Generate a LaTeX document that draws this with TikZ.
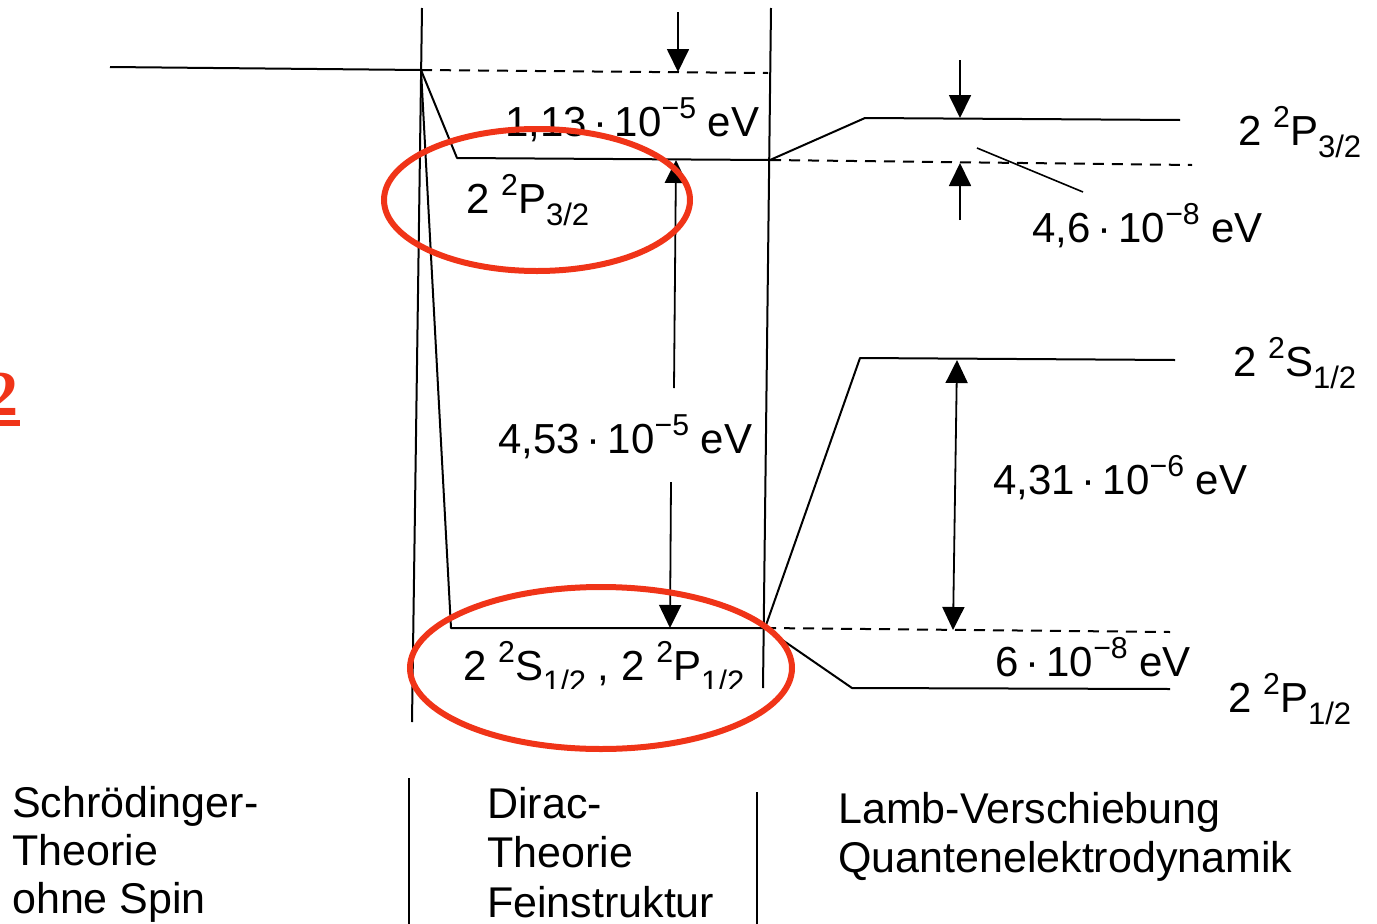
\documentclass[tikz,border=0pt]{standalone}
\usepackage{fontspec}
\setmainfont{Liberation Sans}
\newfontfamily\redserif{Liberation Serif}
\usetikzlibrary{arrows.meta}
\newcommand\upx[1]{\raisebox{0.42em}{\scalebox{0.72}{#1}}}
\newcommand\dnx[1]{\raisebox{-0.30em}{\scalebox{0.74}{#1}}}
\definecolor{redmark}{RGB}{240,52,24}
\begin{document}
\begin{tikzpicture}[x=1pt,y=-1pt,
  lvl/.style={line width=2pt, line join=round},
  leader/.style={line width=1.6pt},
  dsh/.style={line width=2pt, dash pattern=on 11pt off 8pt},
  tip/.tip={Triangle[length=23pt,width=22pt]},
  arr/.style={line width=1.8pt, -tip},
  lab/.style={anchor=base west, inner sep=0pt, font=\fontsize{42}{48}\selectfont},
  captxt/.style={anchor=base west, inner sep=0pt, font=\fontsize{43}{48}\selectfont},
  ring/.style={draw=redmark, line width=6pt},
]
\useasboundingbox (0,0) rectangle (1377,924);

% coordinates
\coordinate (S0) at (110,67);
\coordinate (J) at (421,70);
\coordinate (V1t) at (422,8);
\coordinate (V1b) at (412,722);
\coordinate (P3a) at (457,158);
\coordinate (P3b) at (770,160);
\coordinate (S1a) at (451,628);
\coordinate (S1b) at (765,628);
\coordinate (V2t) at (771,8);
\coordinate (V2b) at (763,688);
\coordinate (D1b) at (768,73);

% Schroedinger and Dirac levels
\draw[lvl] (S0) -- (J);
\draw[lvl] (V1t) -- (V1b);
\draw[lvl] (J) -- (P3a) -- (P3b);
\draw[lvl] (J) -- (S1a) -- (S1b);
\draw[lvl] (V2t) -- (V2b);
\draw[dsh] (J) -- (D1b);

% fine structure arrows
\coordinate (A1t) at (678,12);
\coordinate (A1b) at (678,72);
\draw[arr] (A1t) -- (A1b);
\coordinate (A2s) at (674,388);
\coordinate (A2e) at (676,160);
\draw[arr] (A2s) -- (A2e);
\coordinate (A3s) at (671,482);
\coordinate (A3e) at (670,628);
\draw[arr] (A3s) -- (A3e);

% Lamb shift region
\coordinate (R1a) at (865,118);
\coordinate (R1b) at (1180,120);
\coordinate (D2b) at (1192,165);
\draw[lvl] (P3b) -- (R1a) -- (R1b);
\draw[dsh] (P3b) -- (D2b);
\coordinate (B1t) at (960,60);
\coordinate (B1b) at (960,118);
\draw[arr] (B1t) -- (B1b);
\coordinate (B2b) at (960,220);
\coordinate (B2t) at (960,163);
\draw[arr] (B2b) -- (B2t);
\coordinate (L1a) at (977,148);
\coordinate (L1b) at (1083,192);
\draw[leader] (L1a) -- (L1b);

\coordinate (R2a) at (860,358);
\coordinate (R2b) at (1175,360);
\coordinate (D3b) at (1170,632);
\coordinate (R3a) at (852,688);
\coordinate (R3b) at (1170,689);
\draw[lvl] (S1b) -- (R2a) -- (R2b);
\draw[dsh] (S1b) -- (D3b);
\draw[lvl] (S1b) -- (R3a) -- (R3b);
\coordinate (C1t) at (957,360);
\coordinate (C1b) at (953,630);
\draw[line width=1.8pt, tip-tip] (C1t) -- (C1b);

% labels
\node[lab] (l113) at (505,136) {1,13\,·\,10\upx{−5} eV};
\node[lab] (lP3) at (466,213) {2 \upx{2}P\dnx{3/2}};
\node[lab] (l453) at (498,453) {4,53\,·\,10\upx{−5} eV};
\begin{scope}
  \clip (440,600) rectangle (762,688);
  \node[lab] (lSP) at (463,680) {2 \upx{2}S\dnx{1/2} , 2 \upx{2}P\dnx{1/2}};
\end{scope}
\node[lab] (rP3) at (1238,145) {2 \upx{2}P\dnx{3/2}};
\node[lab] (l46) at (1032,242) {4,6\,·\,10\upx{−8} eV};
\node[lab] (rS) at (1233,376) {2 \upx{2}S\dnx{1/2}};
\node[lab] (l431) at (993,494) {4,31\,·\,10\upx{−6} eV};
\node[lab] (l6) at (995,676) {6\,·\,10\upx{−8} eV};
\node[lab] (rP1) at (1228,712) {2 \upx{2}P\dnx{1/2}};

% bottom captions
\coordinate (Sep1t) at (409,778);
\coordinate (Sep1b) at (409,924);
\coordinate (Sep2t) at (757,792);
\coordinate (Sep2b) at (757,924);
\draw[lvl] (Sep1t) -- (Sep1b);
\draw[lvl] (Sep2t) -- (Sep2b);
\node[captxt] (c1) at (12,817) {Schrödinger-};
\node[captxt] (c2) at (12,865) {Theorie};
\node[captxt] (c3) at (12,913) {ohne Spin};
\node[captxt] (d1) at (487,818) {Dirac-};
\node[captxt] (d2) at (487,867) {Theorie};
\node[captxt] (d3) at (487,917) {Feinstruktur};
\node[captxt] (q1) at (838,823) {Lamb-Verschiebung};
\node[captxt] (q2) at (838,872) {Quantenelektrodynamik};

% red marks
\node[anchor=base east, inner sep=0pt, text=redmark, font=\redserif\bfseries\fontsize{64}{70}\selectfont] (red2) at (19,415) {2};
\coordinate (U1) at (0,423);
\coordinate (U2) at (20,423);
\draw[draw=redmark, line width=6pt] (U1) -- (U2);
\draw[ring] (537,200) ellipse [x radius=153, y radius=71];
\draw[ring] (601,668) ellipse [x radius=191, y radius=81];
\end{tikzpicture}
\end{document}
